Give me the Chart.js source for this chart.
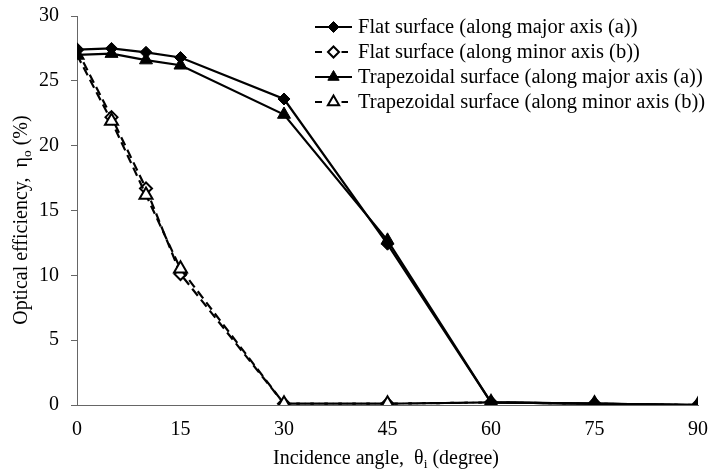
<!DOCTYPE html>
<html>
<head>
<meta charset="utf-8">
<script src="https://cdn.jsdelivr.net/npm/chart.js@4/dist/chart.umd.min.js"></script>
<style>
  html, body { margin: 0; padding: 0; background: #fff; }
  #wrap { width: 712px; height: 472px; }
</style>
</head>
<body>
<div id="wrap"><canvas id="effChart" width="712" height="472"></canvas></div>
<script>
// --- Data ---
const angles = [0, 5, 10, 15, 30, 45, 60, 75, 90];
const flatMajor = [27.4, 27.5, 27.2, 26.8, 23.6, 12.4, 0.2, 0.1, 0.0];
const flatMinor = [27.4, 22.2, 16.7, 10.1, 0.1, 0.1, 0.2, 0.1, 0.0];
const trapMajor = [27.0, 27.1, 26.6, 26.2, 22.4, 12.7, 0.2, 0.1, 0.0];
const trapMinor = [27.0, 21.9, 16.2, 10.5, 0.1, 0.1, 0.2, 0.1, 0.0];
const seriesNames = [
  "Flat surface (along major axis (a))",
  "Flat surface (along minor axis (b))",
  "Trapezoidal surface (along major axis (a))",
  "Trapezoidal surface (along minor axis (b))"
];
const xTicks = [0, 15, 30, 45, 60, 75, 90];
const yTicks = [0, 5, 10, 15, 20, 25, 30];

const FONT = "'Liberation Serif', 'Times New Roman', serif";
const dashed = [9, 5];

function toPoints(values) {
  return angles.map((a, i) => ({ x: a, y: values[i] }));
}

function makeSet(label, values, style, filled, isDashed, order, radius) {
  return {
    label,
    data: toPoints(values),
    borderColor: "#000",
    borderWidth: 2.2,
    borderDash: isDashed ? dashed : [],
    pointStyle: style,
    pointRadius: radius,
    pointBackgroundColor: filled ? "#000" : "#fff",
    pointBorderColor: "#000",
    pointBorderWidth: filled ? 1 : 2,
    tension: 0,
    fill: false,
    order
  };
}

// --- Legend drawn inside the plot, line + marker samples ---
const innerLegend = {
  id: "innerLegend",
  afterDraw(c) {
    const ctx = c.ctx;
    const x0 = 315, x1 = 352, textX = 358;
    const rowY = [27, 52, 77, 102];
    ctx.save();
    ctx.font = "20.5px " + FONT;
    ctx.textBaseline = "middle";
    c.data.datasets.forEach((ds, i) => {
      const y = rowY[i];
      const mid = (x0 + x1) / 2;
      ctx.strokeStyle = "#000";
      ctx.lineWidth = 2.2;
      ctx.setLineDash(ds.borderDash.length ? [7, 6] : []);
      ctx.beginPath();
      ctx.moveTo(x0, y);
      ctx.lineTo(x1, y);
      ctx.stroke();
      ctx.setLineDash([]);
      if (ds.borderDash.length) {
        // clear behind open marker
        ctx.fillStyle = "#fff";
        ctx.fillRect(mid - 8, y - 8, 16, 16);
      }
      ctx.fillStyle = ds.pointBackgroundColor;
      ctx.strokeStyle = "#000";
      ctx.lineWidth = ds.pointBorderWidth;
      const r = ds.pointStyle === "triangle" ? ds.pointRadius - 1 : ds.pointRadius - 0.5;
      Chart.helpers.drawPoint(ctx, {
        pointStyle: ds.pointStyle,
        radius: r,
        borderWidth: ds.pointBorderWidth
      }, mid, y);
      ctx.fillStyle = "#000";
      ctx.fillText(ds.label, textX, y + 1);
    });
    ctx.restore();
  }
};

// --- Axis titles with subscripts ---
function drawRun(ctx, parts, cx, cy) {
  const big = "20px " + FONT, small = "13.5px " + FONT;
  let width = 0;
  parts.forEach(p => {
    ctx.font = p.sub ? small : big;
    width += ctx.measureText(p.t).width;
  });
  let x = cx - width / 2;
  parts.forEach(p => {
    ctx.font = p.sub ? small : big;
    ctx.fillText(p.t, x, cy + (p.sub ? 5 : 0));
    x += ctx.measureText(p.t).width;
  });
}

const axisTitles = {
  id: "axisTitles",
  afterDraw(c) {
    const ctx = c.ctx;
    ctx.save();
    ctx.fillStyle = "#000";
    ctx.textBaseline = "middle";
    drawRun(ctx, [
      { t: "Incidence angle,  \u03b8" }, { t: "i", sub: true }, { t: " (degree)" }
    ], 386, 459);
    ctx.translate(22, 220);
    ctx.rotate(-Math.PI / 2);
    drawRun(ctx, [
      { t: "Optical efficiency,  \u03b7" }, { t: "o", sub: true }, { t: " (%)" }
    ], 0, 0);
    ctx.restore();
  }
};

// --- Chart ---
const ctx = document.getElementById("effChart").getContext("2d");
const chart = new Chart(ctx, {
  type: "line",
  data: {
    datasets: [
      makeSet(seriesNames[0], flatMajor, "rectRot", true, false, 2, 6),
      makeSet(seriesNames[1], flatMinor, "rectRot", false, true, 3, 6),
      makeSet(seriesNames[2], trapMajor, "triangle", true, false, 0, 7.5),
      makeSet(seriesNames[3], trapMinor, "triangle", false, true, 1, 7.5)
    ]
  },
  options: {
    responsive: false,
    animation: false,
    layout: { padding: { top: 16, right: 14, left: 0, bottom: 0 } },
    plugins: {
      legend: { display: false },
      tooltip: { enabled: false }
    },
    scales: {
      x: {
        type: "linear",
        min: 0,
        max: 90,
        afterBuildTicks: s => { s.ticks = xTicks.map(v => ({ value: v })); },
        afterFit: s => { s.height = 67; s.paddingLeft = 0; s.paddingRight = 0; },
        grid: { drawOnChartArea: false, drawTicks: false },
        border: { display: true, color: "#666", width: 1 },
        ticks: {
          color: "#000",
          padding: 13,
          maxRotation: 0,
          font: { family: FONT, size: 20 }
        }
      },
      y: {
        min: 0,
        max: 30,
        afterBuildTicks: s => { s.ticks = yTicks.map(v => ({ value: v })); },
        afterFit: s => { s.width = 77; s.paddingTop = 0; s.paddingBottom = 0; },
        grid: { drawOnChartArea: false, drawTicks: true, tickLength: 6, color: "#666" },
        border: { display: true, color: "#666", width: 1 },
        ticks: {
          color: "#000",
          padding: 12,
          font: { family: FONT, size: 20 }
        }
      }
    }
  },
  plugins: [innerLegend, axisTitles]
});
</script>
</body>
</html>
